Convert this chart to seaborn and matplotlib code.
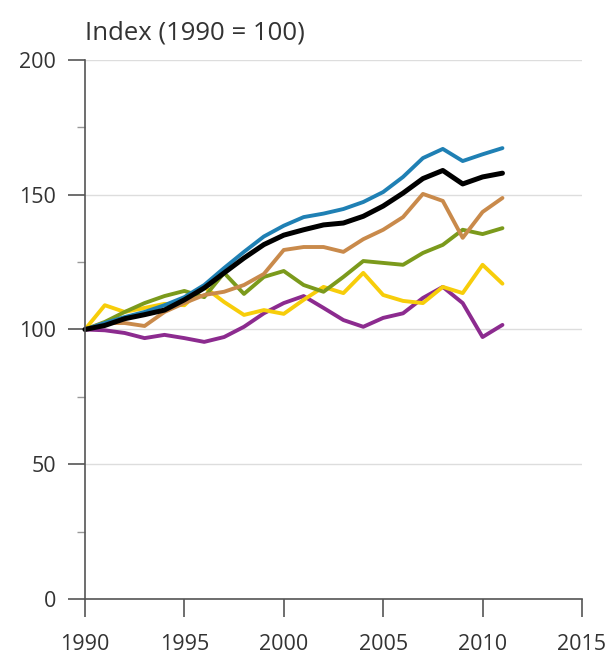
import matplotlib
matplotlib.use("Agg")
import matplotlib.pyplot as plt
import numpy as np
import pandas as pd
import seaborn as sns
from matplotlib.ticker import MultipleLocator

years = list(range(1990, 2012))

# index values (1990 = 100)
blue = [100, 102.4, 104.6, 106.5, 109, 112, 116.5, 122.8, 128.8, 134.5, 138.5,
        141.7, 143, 144.7, 147.3, 151, 156.6, 163.6, 167, 162.5, 165, 167.3]
black = [100, 101.5, 104, 105.5, 107.2, 111, 115.4, 121, 126.5, 131.5, 135,
         137, 138.8, 139.5, 142, 145.8, 150.6, 156, 159, 154, 156.6, 158]
brown = [100, 102.4, 102.4, 101.3, 106.5, 109.8, 112.8, 114, 116.5, 120.6, 129.5,
         130.6, 130.6, 128.8, 133.5, 137, 141.7, 150.3, 147.7, 134, 143.6, 148.8]
green = [100, 102.8, 106.5, 109.8, 112.4, 114.3, 112, 121, 113.2, 119.5, 121.7,
         116.5, 114, 119.5, 125.4, 124.7, 124, 128.4, 131.4, 137, 135.4, 137.6]
yellow = [100, 109, 106.5, 108, 109.5, 109, 115.8, 110.2, 105.4, 107.2, 105.8,
          111, 115.8, 113.5, 121, 112.8, 110.6, 109.8, 115.8, 113.5, 124, 117]
purple = [100, 99.7, 98.7, 96.8, 98, 96.8, 95.4, 97.2, 101, 106, 109.8,
          112.4, 108, 103.5, 101, 104.3, 106, 111.7, 115.8, 109.8, 97.2, 101.7]

series = {"blue": blue, "black": black, "brown": brown,
          "green": green, "yellow": yellow, "purple": purple}
colors = {"blue": "#1f80b4", "black": "#000000", "brown": "#c98a4b",
          "green": "#7b9a1c", "yellow": "#f7cd0a", "purple": "#8c2b8f"}
widths = {"blue": 2.8, "black": 3.6, "brown": 2.8,
          "green": 2.8, "yellow": 2.8, "purple": 2.8}

df = pd.DataFrame([(name, y, v) for name, vals in series.items()
                   for y, v in zip(years, vals)],
                  columns=["series", "year", "index"])

sns.set_style("white")
plt.rcParams["font.family"] = ["Open Sans", "DejaVu Sans"]
text_col = "#333333"

fig = plt.figure(figsize=(6.11, 6.54), dpi=100)
ax = fig.add_axes([0.139, 0.0841, 0.8135, 0.8242])

ax.yaxis.grid(True, which="major", color="#dddddd", linewidth=1.0)
ax.set_axisbelow(True)

# draw in back-to-front order
for name in ["purple", "yellow", "green", "brown", "blue", "black"]:
    sns.lineplot(data=df[df["series"] == name], x="year", y="index",
                 color=colors[name], linewidth=widths[name], ax=ax,
                 legend=False, clip_on=False)

ax.set_xlim(1990, 2015)
ax.set_ylim(0, 200)
ax.xaxis.set_major_locator(MultipleLocator(5))
ax.yaxis.set_major_locator(MultipleLocator(50))
ax.yaxis.set_minor_locator(MultipleLocator(25))

for s in ["top", "right"]:
    ax.spines[s].set_visible(False)
for s in ["left", "bottom"]:
    ax.spines[s].set_color("#555555")
    ax.spines[s].set_linewidth(1.2)

ax.tick_params(axis="y", which="major", direction="out", length=12,
               width=1.2, color="#555555", labelsize=15.5,
               labelcolor=text_col, pad=9)
ax.tick_params(axis="x", which="major", direction="out", length=13,
               width=1.2, color="#555555", labelsize=15.5,
               labelcolor=text_col, pad=12)
ax.tick_params(axis="y", which="minor", direction="out", length=6,
               width=1.0, color="#999999")
ax.tick_params(axis="x", which="both", bottom=True)
ax.tick_params(axis="y", which="both", left=True)

ax.set_xlabel("")
ax.set_ylabel("")
fig.text(85 / 611, 1 - 33 / 654, "Index (1990 = 100)", fontsize=18.5,
         color=text_col, ha="left", va="center")

fig.savefig("out.png", dpi=100)
